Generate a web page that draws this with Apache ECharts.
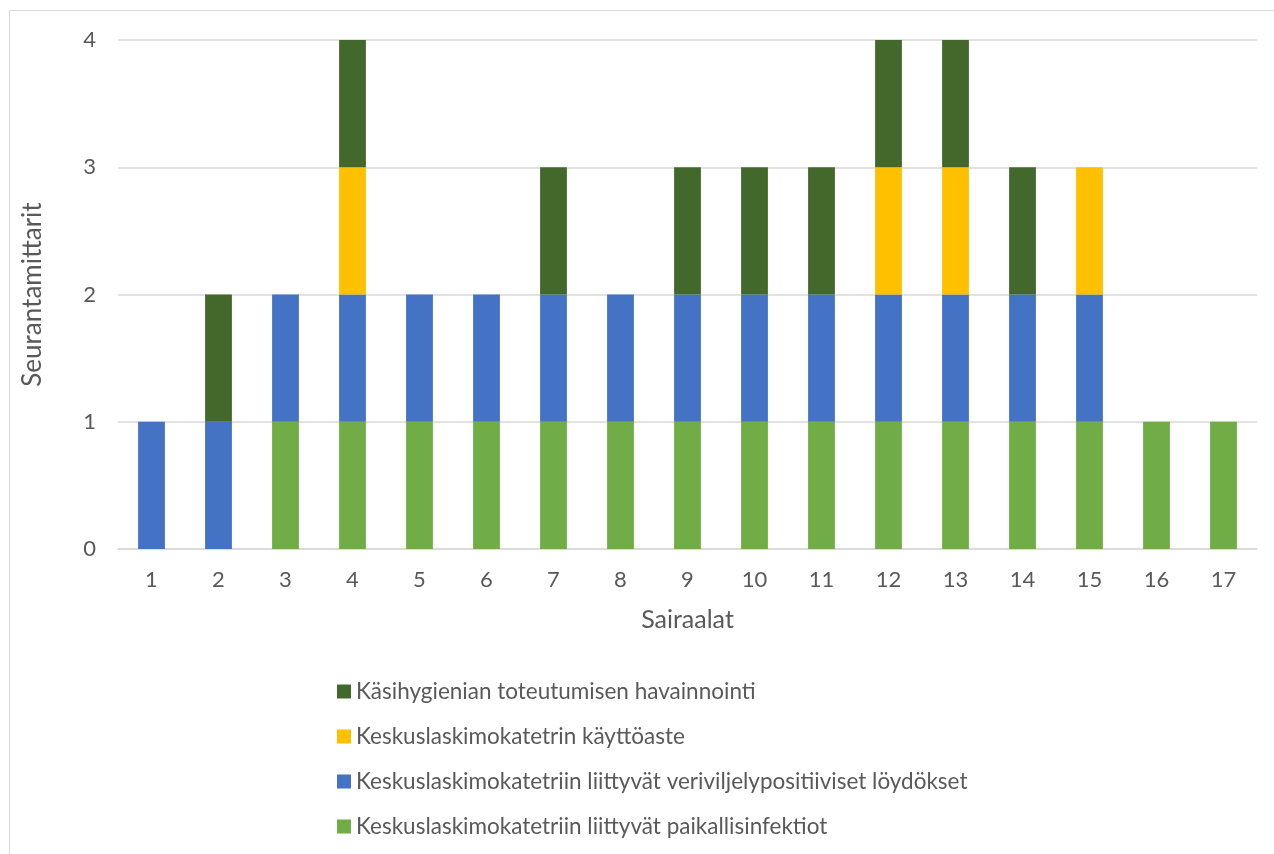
<!DOCTYPE html>
<html>
<head>
<meta charset="utf-8">
<script src="https://cdn.jsdelivr.net/npm/echarts@6/dist/echarts.min.js"></script>
<style>
  html, body { margin: 0; padding: 0; background: #fff; }
  #chart { width: 1274px; height: 854px; }
</style>
</head>
<body>
<div id="chart"></div>
<script>
// Hospitals 1–17 and the number of monitoring indicators in use, by type
const hospitals = ['1','2','3','4','5','6','7','8','9','10','11','12','13','14','15','16','17'];

const localInfections   = [0,0,1,1,1,1,1,1,1,1,1,1,1,1,1,1,1];
const bloodCultures     = [1,1,1,1,1,1,1,1,1,1,1,1,1,1,1,0,0];
const catheterUsage     = [0,0,0,1,0,0,0,0,0,0,0,1,1,0,1,0,0];
const handHygiene       = [0,1,0,1,0,0,1,0,1,1,1,1,1,1,0,0,0];

const seriesNames = {
  local: 'Keskuslaskimokatetriin liittyvät paikallisinfektiot',
  blood: 'Keskuslaskimokatetriin liittyvät veriviljelypositiiviset löydökset',
  usage: 'Keskuslaskimokatetrin käyttöaste',
  hygiene: 'Käsihygienian toteutumisen havainnointi'
};

const textColor = '#595959';
const font = 'Lato, "Open Sans", sans-serif';

const chart = echarts.init(document.getElementById('chart'), null, { renderer: 'canvas' });

function stackSeries(name, data, color) {
  return {
    name: name,
    type: 'bar',
    stack: 'total',
    barWidth: '40%',
    data: data.map(v => (v === 0 ? null : v)),
    itemStyle: { color: color },
    emphasis: { disabled: true }
  };
}

chart.setOption({
  animation: false,
  backgroundColor: '#fff',
  textStyle: { fontFamily: font, color: textColor },
  graphic: [{
    type: 'rect',
    shape: { x: 9.5, y: 10.5, width: 1400, height: 1000 },
    style: { fill: 'none', stroke: '#d9d9d9', lineWidth: 1 },
    silent: true,
    z: -10
  }],
  grid: { left: 118, right: 17, top: 40, bottom: 305 },
  legend: {
    orient: 'vertical',
    left: 332,
    top: 675,
    itemWidth: 14,
    itemHeight: 14,
    itemGap: 22,
    icon: 'rect',
    textStyle: { fontFamily: font, fontSize: 22.5, color: textColor },
    data: [seriesNames.hygiene, seriesNames.usage, seriesNames.blood, seriesNames.local]
  },
  xAxis: {
    type: 'category',
    data: hospitals,
    name: 'Sairaalat',
    nameLocation: 'middle',
    nameGap: 58,
    nameTextStyle: { fontFamily: font, fontSize: 25, color: textColor },
    axisLine: { lineStyle: { color: '#d9d9d9', width: 1.5 } },
    axisTick: { show: false },
    axisLabel: { fontFamily: font, fontSize: 22, color: textColor, margin: 20 }
  },
  yAxis: {
    type: 'value',
    min: 0,
    max: 4,
    interval: 1,
    name: 'Seurantamittarit',
    nameLocation: 'middle',
    nameGap: 72,
    nameTextStyle: { fontFamily: font, fontSize: 26, color: textColor },
    axisLine: { show: false },
    axisTick: { show: false },
    axisLabel: { fontFamily: font, fontSize: 22, color: textColor, margin: 22 },
    splitLine: { lineStyle: { color: '#d9d9d9', width: 1.5 } }
  },
  series: [
    stackSeries(seriesNames.local, localInfections, '#70AD47'),
    stackSeries(seriesNames.blood, bloodCultures, '#4472C4'),
    stackSeries(seriesNames.usage, catheterUsage, '#FFC000'),
    stackSeries(seriesNames.hygiene, handHygiene, '#43682B')
  ]
});
</script>
</body>
</html>
